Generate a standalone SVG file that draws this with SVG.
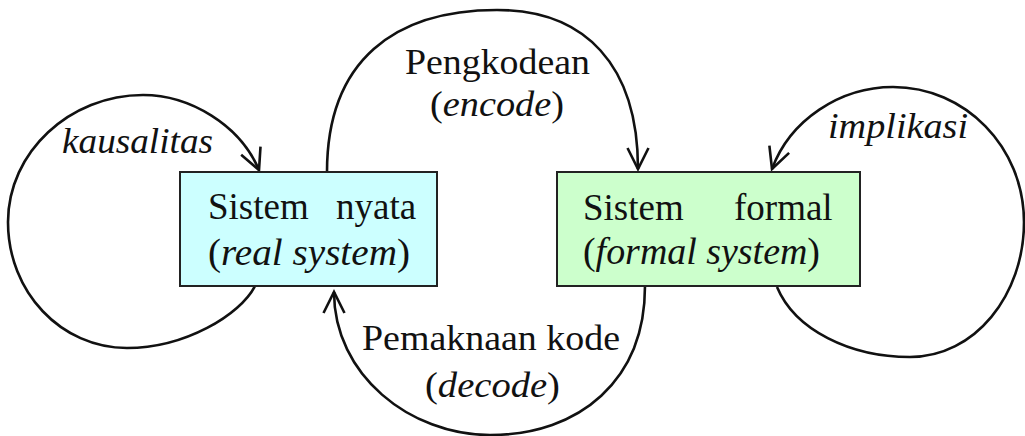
<svg xmlns="http://www.w3.org/2000/svg" width="1025" height="436" viewBox="0 0 1025 436">
<style>
text{font-family:"Liberation Serif","Times New Roman",serif;fill:#111;}
.bt{font-size:37px;}
.lb{font-size:36px;}
.it{font-style:italic;}
.box{stroke:#222;stroke-width:2;}
.con{fill:none;stroke:#111;stroke-width:2.6;marker-end:url(#arr);}
</style>
<defs>
<marker id="arr" markerUnits="userSpaceOnUse" refX="0" refY="0" orient="auto" overflow="visible">
<path d="M -21 -10.5 L 0 0 L -21 10.5" fill="none" stroke="#111" stroke-width="2.6" stroke-linejoin="miter"/>
</marker>
</defs>
<rect width="1025" height="436" fill="#fff"/>
<g id="connectors">
<path id="kausalitas-loop" class="con" d="M 255 286 C 240 315 185 348 127 348 C 61 348 8 292 8 222 C 8 152 70 95 143 95 C 190 95 240 125 259 170"/>
<path id="implikasi-loop" class="con" d="M 777 287 C 795 330 850 357 910 357 C 975 357 1024 295 1024 222 C 1024 147 965 87 893 87 C 840 87 790 120 772 169"/>
<path id="encode" class="con" d="M 327 172 C 327 60 395 10 497 10 C 585 10 638 65 638 169"/>
<path id="decode" class="con" d="M 645 286 C 645 380 580 435 490 435 C 410 435 334 375 334 292"/>
<text class="lb it" x="62" y="153" textLength="151" lengthAdjust="spacingAndGlyphs">kausalitas</text>
<text class="lb it" x="828" y="138" textLength="140" lengthAdjust="spacingAndGlyphs">implikasi</text>
<text class="lb" x="405" y="74" textLength="185" lengthAdjust="spacingAndGlyphs">Pengkodean</text>
<text class="lb" x="430" y="116" textLength="134" lengthAdjust="spacingAndGlyphs">(<tspan class="it">encode</tspan>)</text>
<text class="lb" x="362" y="350" textLength="258" lengthAdjust="spacingAndGlyphs">Pemaknaan kode</text>
<text class="lb" x="425" y="397" textLength="135" lengthAdjust="spacingAndGlyphs">(<tspan class="it">decode</tspan>)</text>
</g>
<g id="real-system">
<rect class="box" x="180" y="172" width="257" height="114" fill="#ccffff"/>
<text class="bt" y="219"><tspan x="208">Sistem</tspan><tspan x="336">nyata</tspan></text>
<text class="bt" x="208" y="265" textLength="202" lengthAdjust="spacingAndGlyphs">(<tspan class="it">real system</tspan>)</text>
</g>
<g id="formal-system">
<rect class="box" x="557" y="172" width="303" height="114" fill="#ccffcc"/>
<text class="bt" y="220"><tspan x="583">Sistem</tspan><tspan x="734">formal</tspan></text>
<text class="bt" x="583" y="264" textLength="237" lengthAdjust="spacingAndGlyphs">(<tspan class="it">formal system</tspan>)</text>
</g>
</svg>
